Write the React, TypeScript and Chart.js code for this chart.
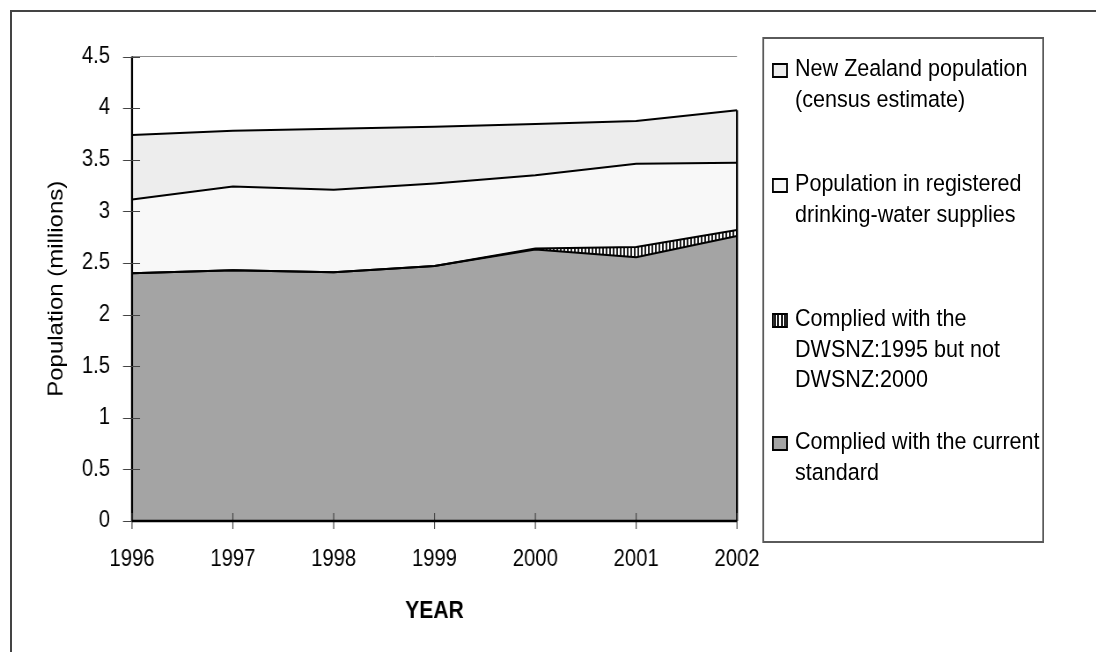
import React, { useEffect, useRef } from 'react';
import { Chart, registerables } from 'chart.js';

Chart.register(...registerables);

// ---- data ----
const years = ['1996', '1997', '1998', '1999', '2000', '2001', '2002'];
const nzPopulation = [3.74, 3.78, 3.8, 3.82, 3.845, 3.875, 3.98];
const registeredPopulation = [3.115, 3.24, 3.21, 3.27, 3.35, 3.46, 3.47];
const compliedOldNotNew = [0, 0, 0, 0, 0.01, 0.1, 0.06];
const compliedCurrent = [2.4, 2.43, 2.41, 2.47, 2.63, 2.555, 2.76];
const legendLabels = [
  ['New Zealand population', '(census estimate)'],
  ['Population in registered', 'drinking-water supplies'],
  ['Complied with the', 'DWSNZ:1995 but not', 'DWSNZ:2000'],
  ['Complied with the current', 'standard'],
];
const yAxisTitle = 'Population (millions)';
const xAxisTitle = 'YEAR';

// ---- layout (final pixel space, converted to condensed inner space) ----
const W0 = 1245;
const H = 652;
const SX = 1096 / W0;
const ix = (v: number) => v / SX;
const FONT = "'Liberation Sans', Arial, sans-serif";

const COLORS = {
  nz: '#ededed',
  reg: '#f8f8f8',
  cur: '#a4a4a4',
};

function makeHatch(): CanvasPattern | string {
  const c = document.createElement('canvas');
  c.width = 4;
  c.height = 4;
  const g = c.getContext('2d');
  if (!g) return '#888';
  g.fillStyle = '#ffffff';
  g.fillRect(0, 0, 4, 4);
  g.fillStyle = '#222222';
  g.fillRect(0, 0, 2, 4);
  return g.createPattern(c, 'repeat') || '#888';
}

const decor = {
  id: 'decor',
  afterDatasetsDraw(chart: any) {
    const { ctx, chartArea, scales } = chart;
    const { left, right, top, bottom } = chartArea;
    const xs = scales.x;
    const ys = scales.y;
    ctx.save();
    // top boundary line
    ctx.strokeStyle = '#8c8c8c';
    ctx.lineWidth = 1;
    ctx.beginPath();
    ctx.moveTo(left, top);
    ctx.lineTo(right, top);
    ctx.stroke();
    // right edge of areas
    const n = years.length;
    const lastX = xs.getPixelForValue(n - 1);
    ctx.strokeStyle = '#000';
    ctx.lineWidth = 2 / SX;
    ctx.beginPath();
    ctx.moveTo(lastX, ys.getPixelForValue(nzPopulation[n - 1]));
    ctx.lineTo(lastX, bottom);
    ctx.stroke();
    // left axis
    ctx.beginPath();
    ctx.moveTo(left, top);
    ctx.lineTo(left, bottom);
    ctx.stroke();
    // y tick marks
    ctx.strokeStyle = '#444';
    ctx.lineWidth = 1;
    ctx.beginPath();
    ys.ticks.forEach((t: any) => {
      const py = Math.round(ys.getPixelForValue(t.value)) + 0.5;
      ctx.moveTo(left - ix(9), py);
      ctx.lineTo(left + ix(8), py);
    });
    ctx.stroke();
    // x tick marks
    ctx.lineWidth = 1 / SX;
    ctx.beginPath();
    for (let i = 0; i < n; i++) {
      const px = xs.getPixelForValue(i);
      ctx.moveTo(px, bottom - 8);
      ctx.lineTo(px, bottom + 8);
    }
    ctx.stroke();
    // bottom axis
    ctx.strokeStyle = '#000';
    ctx.lineWidth = 2.5;
    ctx.beginPath();
    ctx.moveTo(left, bottom);
    ctx.lineTo(right, bottom);
    ctx.stroke();
    ctx.restore();
  },
};

export default function App() {
  const canvasRef = useRef<HTMLCanvasElement | null>(null);

  useEffect(() => {
    const canvas = canvasRef.current;
    if (!canvas) return;
    const hatch = makeHatch();
    const compliedOldTop = compliedCurrent.map((v, i) => v + compliedOldNotNew[i]);
    const line = {
      borderColor: '#000',
      borderWidth: 2,
      pointRadius: 0,
      tension: 0,
    };
    const chart = new Chart(canvas, {
      type: 'line',
      data: {
        labels: years,
        datasets: [
          { ...line, label: legendLabels[0].join(' '), data: nzPopulation, backgroundColor: COLORS.nz, fill: '+1' },
          { ...line, label: legendLabels[1].join(' '), data: registeredPopulation, backgroundColor: COLORS.reg, fill: '+1' },
          { ...line, label: legendLabels[2].join(' '), data: compliedOldTop, backgroundColor: hatch as any, fill: '+1' },
          { ...line, label: legendLabels[3].join(' '), data: compliedCurrent, backgroundColor: COLORS.cur, fill: 'origin' },
        ],
      },
      options: {
        animation: false,
        responsive: false,
        maintainAspectRatio: false,
        devicePixelRatio: 1,
        layout: {
          padding: { left: 0, right: W0 - ix(737), top: 56.5, bottom: 0 },
        },
        plugins: {
          legend: { display: false },
          tooltip: { enabled: false },
          filler: { drawTime: 'beforeDatasetsDraw' },
        } as any,
        scales: {
          x: {
            type: 'category',
            offset: false,
            grid: { display: false, drawTicks: false, tickLength: 0 },
            border: { display: false },
            ticks: {
              color: '#000',
              font: { family: FONT, size: 23 },
              padding: 25,
              maxRotation: 0,
              autoSkip: false,
            },
            title: {
              display: true,
              text: xAxisTitle,
              color: '#000',
              font: { family: FONT, size: 24, weight: 'bold' },
              padding: { top: 0, bottom: 26.6 },
            },
            afterFit: (s: any) => {
              s.height = H - 521;
            },
          },
          y: {
            min: 0,
            max: 4.5,
            grid: { display: false, drawTicks: false, tickLength: 0 },
            border: { display: false },
            ticks: {
              stepSize: 0.5,
              color: '#000',
              font: { family: FONT, size: 23 },
              padding: ix(22),
              callback: (v: any) => String(Number(v)),
            },
            title: {
              display: true,
              text: yAxisTitle,
              color: '#000',
              font: { family: FONT, size: 24 },
              padding: { top: ix(57) - 14.4, bottom: 0 },
            },
            afterFit: (s: any) => {
              s.width = ix(132);
            },
          },
        },
      } as any,
      plugins: [decor],
    });
    return () => chart.destroy();
  }, []);

  const baselines = [77, 192, 327, 450];
  const swatchStyles: React.CSSProperties[] = [
    { background: COLORS.nz },
    { background: COLORS.reg },
    { background: 'repeating-linear-gradient(90deg, #222 0px, #222 2px, #fff 2px, #fff 4px)' },
    { background: COLORS.cur },
  ];

  return (
    <div
      style={{
        position: 'absolute',
        left: 0,
        top: 0,
        width: 1096,
        height: H,
        overflow: 'hidden',
        background: '#fff',
      }}
    >
      <div
        style={{
          position: 'absolute',
          left: 10,
          top: 10,
          width: 1200,
          height: 800,
          borderTop: '2px solid #444',
          borderLeft: '2px solid #444',
        }}
      />
      <div
        style={{
          position: 'absolute',
          left: 0,
          top: 0,
          width: W0,
          height: H,
          transform: `scaleX(${SX})`,
          transformOrigin: '0 0',
          fontFamily: FONT,
        }}
      >
        <canvas
          ref={canvasRef}
          width={W0}
          height={H}
          style={{ position: 'absolute', left: 0, top: 0, width: W0, height: H }}
        />
        <div
          style={{
            position: 'absolute',
            left: ix(762),
            top: 37,
            width: ix(1044) - ix(762),
            height: 543 - 37,
            border: '2px solid #5a5a5a',
            boxSizing: 'border-box',
          }}
        />
        {legendLabels.map((lines, i) => (
          <React.Fragment key={i}>
            <div
              style={{
                position: 'absolute',
                left: ix(772),
                top: baselines[i] - 14,
                width: ix(16),
                height: 15,
                border: '2px solid #000',
                boxSizing: 'border-box',
                ...swatchStyles[i],
              }}
            />
            <div
              style={{
                position: 'absolute',
                left: ix(795),
                top: baselines[i] - 23.7,
                fontSize: 24.5,
                lineHeight: '30.5px',
                color: '#000',
                whiteSpace: 'nowrap',
              }}
            >
              {lines.map((l, j) => (
                <div key={j}>{l}</div>
              ))}
            </div>
          </React.Fragment>
        ))}
      </div>
    </div>
  );
}
